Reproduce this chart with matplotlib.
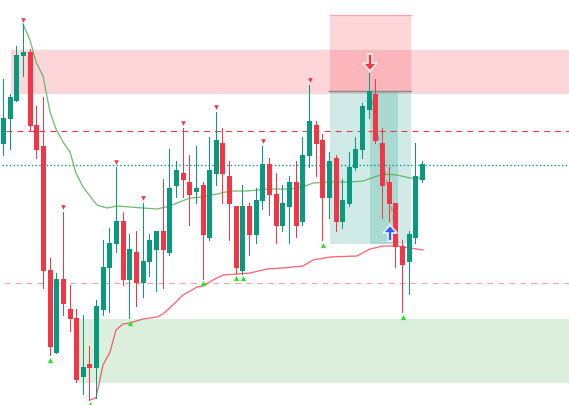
import math
import matplotlib
matplotlib.use("Agg")
import matplotlib.pyplot as plt
from matplotlib.patches import FancyArrow

plt.rcParams['lines.scale_dashes'] = False

# Chart levels (screen-style scale, larger = lower on the chart)
direction = ['G','G','G','G','R','R','R','R','G','R','R','R','G','R','G','G',
             'G','G','R','G','R','G','G','G','R','G','G','R','R','G','R','G',
             'G','R','R','R','G','R','G','G','R','R','G','G','R','G','G','R',
             'R','G','R','G','G','G','G','G','R','R','R','R','R','G','G','G']
body_top = [118,97,55,52,52,125,146,270,279,279,309,318,367,364,306,267,
            243,221,221,249,252,261,240,231,231,188,170,173,182,188,185,170,
            140,143,176,206,206,206,200,164,164,194,203,182,182,155,121,125,
            140,161,158,200,167,149,106,91,94,143,182,203,246,234,176,164]
body_bot = [144,119,101,56,126,150,271,347,353,304,319,380,377,368,368,310,
            268,244,280,280,283,283,262,250,250,253,186,180,195,192,235,238,
            174,174,204,268,271,235,235,201,195,226,226,207,226,222,156,144,
            198,198,222,222,204,168,150,110,141,186,204,247,265,262,238,180]
wick_top = [79,94,46,24,49,106,97,258,273,212,285,309,315,346,300,240,
            228,167,212,234,231,203,234,231,179,149,161,128,155,146,182,137,
            112,128,161,206,185,203,188,146,158,173,185,176,161,137,85,121,
            134,152,155,179,152,137,103,73,79,128,167,203,240,231,143,161]
wick_bot = [155,149,101,76,131,158,288,355,353,315,331,382,394,400,398,315,
            312,252,285,318,306,297,276,291,288,255,197,197,225,203,279,240,
            185,203,240,273,274,255,243,209,215,243,231,243,237,225,167,176,
            240,218,231,228,206,170,158,118,143,218,221,267,312,294,243,182]

slow_line_x = [23,30,36,43,50,56,63,70,76,83,93,97,107,117,130,143,157,170,177,190,203,217,
               230,247,270,290,303,313,330,350,363,383,397,410,421]
slow_line_y = [24,40,62,76,112,129,142,152,173,187,200,205,208,206,207,208,209,206,203,198,
               197,194,191,191,189,189,187,183,182,182,181,174,175,178,178]
fast_line_x = [90,96,103,110,116,123,130,143,157,163,175,183,192,197,203,213,223,237,250,267,
               283,303,313,330,357,370,383,397,423]
fast_line_y = [400,398,365,352,330,324,323,319,317,314,303,295,290,287,286,280,275,274,273,269,
               268,266,260,257,256,249,246,246,250]

peak_x = [23,63,116,143,183,216,263,310]
peak_y = [20,207,162,198,123,107,141,80]
trough_x = [50,90,130,203,236,243,323,403]
trough_y = [360,404,323,283,278,278,245,317]

resistance_top, resistance_bot = 50, 94
support_top, support_bot = 319, 383
dashed_level, dotted_level, pale_level = 131, 164.5, 283
entry, stop, target = 91, 15, 243.5
trade_x = [370, 398]
trade_y = [91, 243]

RED = '#F23645'
TEAL = '#089981'

fig = plt.figure(figsize=(5.69, 4.05), dpi=100)
ax = fig.add_axes([0, 0, 1, 1])
ax.set_xlim(0, 569)
ax.set_ylim(405, 0)
ax.axis('off')

# zones
ax.axhspan(resistance_top, resistance_bot, xmin=11/569, xmax=1, color=RED, alpha=0.2, lw=0, zorder=1)
ax.axhspan(support_top, support_bot, xmin=77/569, xmax=1, color='#4CAF50', alpha=0.2, lw=0, zorder=1)
# position box
ax.axhspan(stop, entry, xmin=330/569, xmax=411/569, color=RED, alpha=0.2, lw=0, zorder=1.2)
ax.axhspan(entry, target, xmin=330/569, xmax=411/569, color=TEAL, alpha=0.19, lw=0, zorder=1.2)
ax.axhspan(entry, target, xmin=370/569, xmax=398/569, color=TEAL, alpha=0.2, lw=0, zorder=1.3)
ax.plot([330, 411], [stop, stop], color='#F7A3AB', lw=0.9, zorder=1.4)
ax.plot([329, 411], [entry, entry], color='#8a8a8a', lw=1.0, zorder=1.4)
ax.plot(trade_x, trade_y, color='#9a9a9a', lw=1.0, ls=(0, (3.5, 3)), zorder=1.5)

# horizontal levels
ax.plot([6, 569], [dashed_level]*2, color=RED, lw=0.8, ls=(0, (4.3, 3.6)), zorder=2)
ax.plot([2, 569], [dotted_level]*2, color=TEAL, lw=1.0, ls=(0, (1.0, 1.65)), zorder=2)
ax.plot([4, 569], [pale_level]*2, color='#F5A3AA', lw=0.8, ls=(0, (4.3, 3.6)), zorder=2)

# moving lines
ax.plot(slow_line_x, slow_line_y, color='#4CAF50', alpha=0.8, lw=0.95, zorder=2.5)
ax.plot(fast_line_x, fast_line_y, color=RED, alpha=0.75, lw=0.95, zorder=2.5)

# candles
xs = [math.floor(3.5 + 6.65*i) + 0.5 for i in range(len(direction))]
cols = [TEAL if d == 'G' else RED for d in direction]
ax.vlines(xs, wick_top, wick_bot, colors=cols, lw=0.72, antialiased=False, zorder=3)
ax.bar(xs, [b-t for t, b in zip(body_top, body_bot)], bottom=body_top, width=5,
       color=cols, lw=0, zorder=3.1)

# peak / trough markers
ax.scatter(peak_x, peak_y, marker='v', s=11, color=RED, lw=0, zorder=4)
ax.scatter(trough_x, trough_y, marker='^', s=14, color='#22E622', lw=0, zorder=4)

# trade arrows
ax.add_patch(FancyArrow(370, 54, 0, 17, width=4, head_width=14, head_length=8,
                        length_includes_head=True, fc=RED, ec='#FFF0F0', lw=1.2, zorder=5))
ax.add_patch(FancyArrow(390, 241, 0, -16, width=4, head_width=14, head_length=8,
                        length_includes_head=True, fc='#2962FF', ec='#F0F4FF', lw=1.2, zorder=5))

fig.savefig('out.png', dpi=100, facecolor='white')
